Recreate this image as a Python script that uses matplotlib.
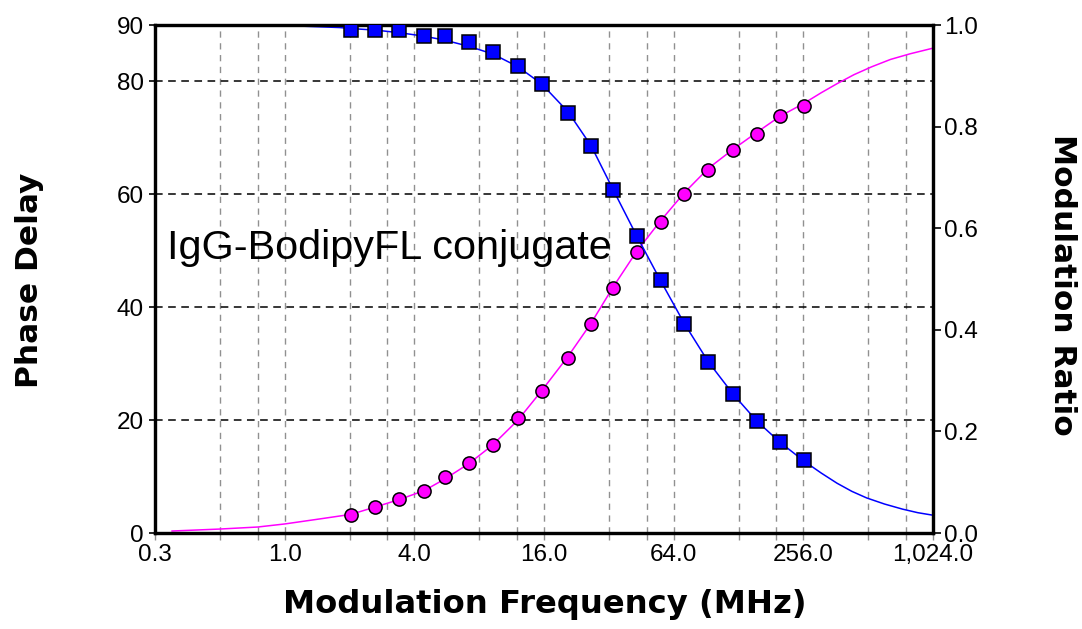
import matplotlib
matplotlib.use('Agg')
import matplotlib.pyplot as plt
from matplotlib.ticker import FixedLocator, NullFormatter

# measured points (same frequencies for both series)
freq = [2.03, 2.63, 3.39, 4.44, 5.56, 7.17, 9.25, 12.1, 15.6, 20.7,
        26.5, 33.4, 43.1, 55.6, 71.8, 92.7, 121, 156, 199, 257]
phase = [3.2, 4.6, 6.0, 7.4, 9.9, 12.4, 15.6, 20.4, 25.2, 31.0,
         37.0, 43.4, 49.8, 55.1, 60.1, 64.3, 67.9, 70.7, 73.9, 75.6]
modulation = [0.990, 0.990, 0.990, 0.978, 0.978, 0.967, 0.947, 0.920, 0.884, 0.827,
              0.762, 0.675, 0.585, 0.498, 0.411, 0.337, 0.274, 0.220, 0.179, 0.144]

# fitted curves
fit_freq_phase = [0.30, 0.5, 0.75, 1.0, 1.46, 2.03, 2.63, 3.39, 4.44, 5.56, 7.17, 9.25,
                  12.1, 15.6, 20.7, 26.5, 33.4, 43.1, 55.6, 71.8, 92.7, 121, 156, 199,
                  257, 310, 367, 440, 532, 650, 802, 1024]
fit_phase = [0.35, 0.7, 1.06, 1.6, 2.5, 3.3, 4.6, 5.9, 7.5, 9.6, 12.3, 15.6,
             20.0, 25.2, 31.3, 37.2, 43.5, 49.9, 55.3, 60.3, 64.6, 68.0, 71.0, 73.8,
             76.1, 78.0, 79.6, 81.2, 82.6, 83.9, 84.9, 85.9]
fit_freq_mod = [0.30, 1.0, 1.8, 2.03, 2.63, 3.39, 4.44, 5.56, 7.17, 9.25, 12.1, 15.6,
                20.7, 26.5, 33.4, 43.1, 55.6, 71.8, 92.7, 121, 156, 199, 257,
                310, 367, 430, 504, 610, 739, 870, 1024]
fit_mod = [1.0, 0.999, 0.995, 0.993, 0.990, 0.985, 0.978, 0.970, 0.958, 0.943, 0.918, 0.884,
           0.829, 0.762, 0.677, 0.585, 0.497, 0.412, 0.337, 0.273, 0.220, 0.179, 0.142,
           0.118, 0.098, 0.082, 0.069, 0.057, 0.047, 0.040, 0.035]

xticks = [0.25, 1, 4, 16, 64, 256, 1024]
xlabels = ['0.3', '1.0', '4.0', '16.0', '64.0', '256.0', '1,024.0']
xminor = [0.5, 0.75, 2, 3, 8, 12, 32, 48, 128, 192, 512, 768]
yticks_left = [0, 20, 40, 60, 80, 90]
yticks_right = [0.0, 0.2, 0.4, 0.6, 0.8, 1.0]

tickfont = {'family': 'Liberation Sans', 'size': 17.5}
labelfont = {'family': 'DejaVu Sans', 'size': 22.5, 'weight': 'bold'}

fig = plt.figure(figsize=(10.82, 6.29), dpi=100)
ax = fig.add_axes([155/1082, 1-533/629, 778/1082, 508/629])
ax2 = ax.twinx()

ax.set_xscale('log')
ax.set_xlim(0.25, 1024)
ax.set_ylim(0, 90)
ax2.set_ylim(0, 1.0)

ax.xaxis.set_major_locator(FixedLocator(xticks))
ax.set_xticklabels(xlabels, fontdict=tickfont)
ax.xaxis.set_minor_locator(FixedLocator(xminor))
ax.xaxis.set_minor_formatter(NullFormatter())
ax.set_yticks(yticks_left)
ax.set_yticklabels([str(v) for v in yticks_left], fontdict=tickfont)
ax2.set_yticks(yticks_right)
ax2.set_yticklabels(['%.1f' % v for v in yticks_right], fontdict=tickfont)

ax.tick_params(axis='x', which='both', direction='out', length=5, width=1, color='#909090', pad=3)
ax.tick_params(axis='y', direction='out', length=4, width=1.2, color='black', pad=4)
ax2.tick_params(axis='y', direction='out', length=6, width=1.2, color='black', pad=2)

ax.grid(True, axis='x', which='both', color='#909090', linestyle=(0, (4.5, 4)), linewidth=1.0)
ax.grid(True, axis='y', which='major', color='black', linestyle=(0, (5, 3.6)), linewidth=1.1)
ax.set_axisbelow(True)

for a in (ax, ax2):
    for s in a.spines.values():
        s.set_linewidth(2.3)
        s.set_color('black')

ax.plot(fit_freq_phase, fit_phase, color='#ff00ff', lw=1.1, zorder=2)
ax.plot(freq, phase, 'o', mfc='#ff00ff', mec='black', ms=9.5, mew=1.1, zorder=3)
ax2.plot(fit_freq_mod, fit_mod, color='#0000ff', lw=1.1, zorder=2)
ax2.plot(freq, modulation, 's', mfc='#0000ff', mec='black', ms=9.5, mew=1.1, zorder=3)

ax.text(0.284, 48.5, 'IgG-BodipyFL conjugate', family='Liberation Sans', size=29.8,
        ha='left', va='baseline', zorder=4)

fig.text(545/1082, 1-605/629, 'Modulation Frequency (MHz)', ha='center', va='center',
         family='DejaVu Sans', size=23.2, weight='bold')
fig.text(30/1082, 1-280/629, 'Phase Delay', ha='center', va='center', rotation=90, **labelfont)
fig.text(1063/1082, 1-285/629, 'Modulation Ratio', ha='center', va='center', rotation=270, **labelfont)

fig.savefig('out.png', dpi=100)
